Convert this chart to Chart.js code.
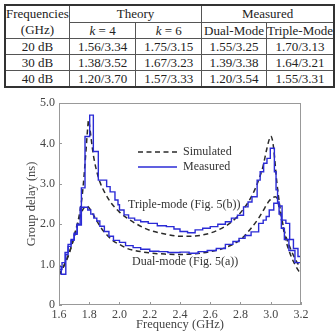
<!DOCTYPE html>
<html>
<head>
<meta charset="utf-8">
<script src="https://cdn.jsdelivr.net/npm/chart.js@4"></script>
<style>
  html, body { margin: 0; padding: 0; background: #fff; }
  body { width: 335px; height: 332px; position: relative; overflow: hidden; }
  table {
    position: absolute; left: 4px; top: 4px;
    border-collapse: collapse; table-layout: fixed;
    font-family: "Liberation Serif", "Times New Roman", serif;
    font-size: 13px; color: #222; border: 2px solid #333;
  }
  td { border: 1px solid #555; text-align: center; padding: 0; height: 15px; line-height: 15px; white-space: nowrap; overflow: hidden; }
  #wrap { position: absolute; left: 0; top: 90px; width: 335px; height: 242px; }
</style>
</head>
<body>
<table>
  <colgroup><col style="width:62px"><col style="width:67px"><col style="width:66px"><col style="width:65px"><col style="width:66px"></colgroup>
  <tr><td rowspan="2" style="line-height:16px">Frequencies<br>(GHz)</td><td colspan="2">Theory</td><td colspan="2">Measured</td></tr>
  <tr><td><i>k</i> = 4</td><td><i>k</i> = 6</td><td>Dual-Mode</td><td>Triple-Mode</td></tr>
  <tr><td>20 dB</td><td>1.56/3.34</td><td>1.75/3.15</td><td>1.55/3.25</td><td>1.70/3.13</td></tr>
  <tr><td>30 dB</td><td>1.38/3.52</td><td>1.67/3.23</td><td>1.39/3.38</td><td>1.64/3.21</td></tr>
  <tr><td>40 dB</td><td>1.20/3.70</td><td>1.57/3.33</td><td>1.20/3.54</td><td>1.55/3.31</td></tr>
</table>
<div id="wrap"><canvas id="c" width="335" height="242"></canvas></div>
<script>
// ---- data ----
const freqSimT = [1.60,1.63,1.66,1.69,1.71,1.73,1.75,1.76,1.77,1.78,1.79,1.795,1.80,1.81,1.82,1.83,1.85,1.87,1.90,1.95,2.00,2.05,2.10,2.20,2.30,2.40,2.50,2.60,2.70,2.76,2.82,2.86,2.90,2.93,2.95,2.97,2.99,3.00,3.01,3.02,3.04,3.06,3.08,3.10,3.13,3.16,3.20];
const valSimT  = [0.74,0.95,1.22,1.55,1.85,2.15,2.6,2.95,3.4,3.9,4.4,4.58,4.5,4.2,3.9,3.65,3.3,3.05,2.8,2.5,2.3,2.15,2.03,1.85,1.76,1.70,1.71,1.78,1.95,2.12,2.38,2.6,2.9,3.2,3.45,3.8,4.1,4.18,4.1,3.85,3.05,2.45,2.0,1.7,1.4,1.15,0.9];

const freqSimD = [1.60,1.63,1.66,1.69,1.72,1.75,1.77,1.785,1.80,1.82,1.85,1.88,1.92,1.96,2.00,2.05,2.10,2.20,2.30,2.40,2.50,2.60,2.70,2.80,2.87,2.92,2.96,2.99,3.01,3.03,3.045,3.06,3.08,3.10,3.13,3.16,3.20];
const valSimD  = [0.74,0.95,1.2,1.55,1.95,2.3,2.43,2.45,2.4,2.28,2.08,1.9,1.72,1.58,1.5,1.40,1.35,1.29,1.26,1.25,1.27,1.32,1.42,1.62,1.9,2.15,2.4,2.58,2.65,2.68,2.6,2.3,1.95,1.6,1.25,1.0,0.75];

const freqMeaT = [1.60,1.615,1.645,1.66,1.68,1.70,1.72,1.748,1.772,1.803,1.827,1.86,1.915,1.938,1.97,1.99,2.00,2.03,2.06,2.10,2.14,2.19,2.25,2.31,2.36,2.40,2.45,2.50,2.55,2.60,2.65,2.70,2.74,2.78,2.82,2.85,2.876,2.91,2.93,2.953,2.975,2.997,3.024,3.035,3.045,3.055,3.07,3.09,3.12,3.16,3.20];
const valMeaT  = [0.95,0.76,1.25,1.45,1.6,1.75,1.98,2.9,4.17,4.70,3.80,3.09,2.93,2.80,2.60,2.48,2.35,2.23,2.15,2.10,2.06,2.02,1.96,1.94,1.88,1.82,1.79,1.86,1.90,1.94,2.0,2.06,2.15,2.22,2.43,2.55,2.68,3.09,3.30,3.51,3.63,3.88,3.30,2.85,2.55,2.25,1.9,1.62,1.35,1.05,1.05];

const freqMeaD = [1.60,1.62,1.64,1.66,1.68,1.70,1.72,1.74,1.79,1.81,1.83,1.85,1.87,1.90,1.93,1.96,2.00,2.04,2.09,2.14,2.20,2.26,2.32,2.40,2.46,2.52,2.58,2.64,2.70,2.75,2.79,2.83,2.87,2.92,2.95,2.97,2.99,3.02,3.055,3.075,3.10,3.125,3.15,3.18,3.20];
const valMeaD  = [0.88,1.05,1.3,1.5,1.62,1.78,2.0,2.42,2.35,2.25,2.15,2.08,1.95,1.82,1.7,1.6,1.55,1.47,1.42,1.38,1.33,1.32,1.30,1.31,1.28,1.32,1.35,1.40,1.50,1.57,1.65,1.72,1.81,2.02,2.10,2.19,2.35,2.52,2.45,2.1,2.02,1.62,1.40,1.20,1.20];

const xTicks = [1.6,1.8,2.0,2.2,2.4,2.6,2.8,3.0,3.2];
const yTicks = [0,1,2,3,4,5];
const legendLabels = ["Simulated","Measured"];
const annotTriple = "Triple-mode (Fig. 5(b))";
const annotDual = "Dual-mode (Fig. 5(a))";

const toPts = (xs, ys) => xs.map((x, i) => ({x, y: ys[i]}));
const SERIF = '"Liberation Serif", "Times New Roman", serif';
const BLUE = '#2b2bd6';
const DASH = '#2a2a2a';

const framePlugin = {
  id: 'frame',
  afterDraw(chart) {
    const {ctx, chartArea: a, scales} = chart;
    ctx.save();
    ctx.strokeStyle = '#999';
    ctx.lineWidth = 1;
    ctx.strokeRect(a.left + 0.5, a.top + 0.5, a.right - a.left - 1, a.bottom - a.top - 1);
    ctx.beginPath();
    xTicks.forEach(v => { const px = Math.round(scales.x.getPixelForValue(v)) + 0.5; ctx.moveTo(px, a.bottom); ctx.lineTo(px, a.bottom - 3); });
    yTicks.forEach(v => { const py = Math.round(scales.y.getPixelForValue(v)) + 0.5; ctx.moveTo(a.left, py); ctx.lineTo(a.left + 3, py); });
    ctx.stroke();
    // legend
    ctx.font = '12px ' + SERIF;
    ctx.fillStyle = '#333';
    ctx.textBaseline = 'middle';
    ctx.lineWidth = 1.5;
    ctx.strokeStyle = DASH; ctx.setLineDash([5, 3.5]);
    ctx.beginPath(); ctx.moveTo(138, 62); ctx.lineTo(177, 62); ctx.stroke();
    ctx.setLineDash([]);
    ctx.strokeStyle = BLUE;
    ctx.beginPath(); ctx.moveTo(138, 77); ctx.lineTo(177, 77); ctx.stroke();
    ctx.fillText(legendLabels[0], 183, 62);
    ctx.fillText(legendLabels[1], 183, 77);
    ctx.fillText(annotTriple, 128, 115);
    ctx.fillText(annotDual, 132, 172);
    ctx.restore();
  }
};

new Chart(document.getElementById('c'), {
  type: 'line',
  data: {
    datasets: [
      {data: toPts(freqMeaT, valMeaT), borderColor: BLUE, borderWidth: 1.4, stepped: true, pointRadius: 0, fill: false},
      {data: toPts(freqMeaD, valMeaD), borderColor: BLUE, borderWidth: 1.4, stepped: true, pointRadius: 0, fill: false},
      {data: toPts(freqSimT, valSimT), borderColor: DASH, borderWidth: 1.5, borderDash: [5, 3.5], tension: 0.35, pointRadius: 0, fill: false, cubicInterpolationMode: 'monotone'},
      {data: toPts(freqSimD, valSimD), borderColor: DASH, borderWidth: 1.5, borderDash: [5, 3.5], tension: 0.35, pointRadius: 0, fill: false, cubicInterpolationMode: 'monotone'}
    ]
  },
  options: {
    responsive: false, animation: false, devicePixelRatio: 1,
    layout: {padding: {top: 13, right: 34, left: 0, bottom: 0}},
    plugins: {legend: {display: false}, tooltip: {enabled: false}},
    scales: {
      x: {
        type: 'linear', min: 1.6, max: 3.2,
        afterFit: s => { s.height = 27; },
        afterBuildTicks: s => { s.ticks = xTicks.map(v => ({value: v})); },
        grid: {display: false, drawTicks: false}, border: {display: false},
        ticks: {padding: 3, color: '#444', font: {family: SERIF, size: 12}, maxRotation: 0, autoSkip: false, callback: v => Number(v).toFixed(1)},
        title: {display: true, text: 'Frequency (GHz)', color: '#444', font: {family: SERIF, size: 12.5, lineHeight: 1.1}, padding: {top: 0, bottom: 0}}
      },
      y: {
        min: 0, max: 5,
        afterFit: s => { s.width = 59; },
        afterBuildTicks: s => { s.ticks = yTicks.map(v => ({value: v})); },
        grid: {display: false, drawTicks: false}, border: {display: false},
        ticks: {padding: 4, color: '#444', font: {family: SERIF, size: 12}, callback: v => v === 0 ? '0' : Number(v).toFixed(1)},
        title: {display: true, text: 'Group delay (ns)', color: '#444', font: {family: SERIF, size: 12.5, lineHeight: 1.2}, padding: {top: 24, bottom: 0}}
      }
    }
  },
  plugins: [framePlugin]
});
</script>
</body>
</html>
